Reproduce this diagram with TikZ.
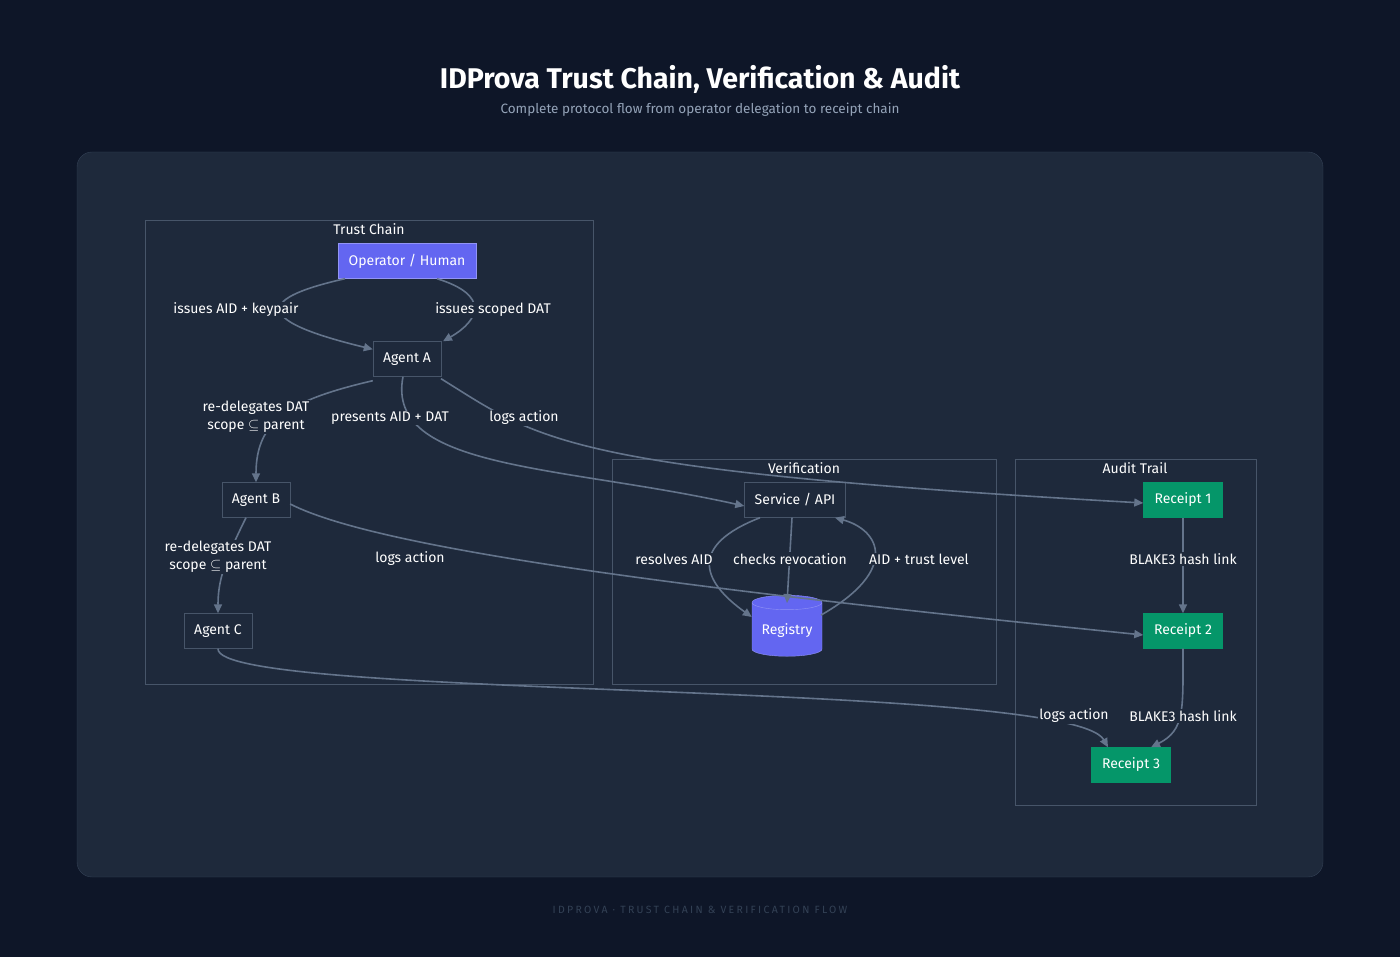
\documentclass[tikz,border=0pt]{standalone}
\usepackage{fontspec}
\setmainfont{Fira Sans}
\usetikzlibrary{shapes.geometric,arrows.meta}
\definecolor{bg}{HTML}{0E1628}
\definecolor{panel}{HTML}{1E293B}
\definecolor{bd}{HTML}{475569}
\definecolor{edge}{HTML}{64748B}
\definecolor{purp}{HTML}{6366F1}
\definecolor{grn}{HTML}{059669}
\definecolor{sub}{HTML}{94A3B8}
\definecolor{foot}{HTML}{334155}
\tikzset{
 box/.style={draw=bd,fill=panel,text=white,minimum height=35pt,inner xsep=8pt,font=\fontsize{14}{16}\selectfont},
 pbox/.style={box,fill=purp,draw=purp!70!white},
 gbox/.style={box,fill=grn,draw=grn},
 clus/.style={draw=bd,fill=panel},
 ctext/.style={text=white,font=\fontsize{14}{16}\selectfont},
 lab/.style={text=white,fill=panel,inner sep=1pt,align=center,font=\fontsize{14}{16}\selectfont},
 lab2/.style={lab,font=\fontsize{14}{18}\selectfont},
 e/.style={draw=edge,line width=1.6pt,-{Triangle[length=9pt,width=8pt]}},
}
\begin{document}
\begin{tikzpicture}[x=1pt,y=-1pt]
\fill[bg] (0,0) rectangle (1400,957);
\useasboundingbox (0,0) rectangle (1400,957);
\fill[panel,draw=foot,rounded corners=15pt] (77,152) rectangle (1323,877);
\node[text=white,font=\bfseries\fontsize{28.5}{32}\selectfont] (title) at (700,79) {IDProva Trust Chain, Verification \& Audit};
\node[text=sub,font=\fontsize{13.5}{15}\selectfont] (subt) at (700,110) {Complete protocol flow from operator delegation to receipt chain};
\node[text=foot,font=\addfontfeatures{LetterSpace=22}\fontsize{10.5}{12}\selectfont] (foot) at (700,910) {IDPROVA · TRUST CHAIN \& VERIFICATION FLOW};
% clusters
\draw[clus] (145,220) rectangle (593,684);
\draw[clus] (612,459) rectangle (996,684);
\draw[clus] (1015,459) rectangle (1256,805);
\node[ctext] (ct1) at (369,229) {Trust Chain};
\node[ctext] (ct2) at (804,468) {Verification};
\node[ctext] (ct3) at (1135,468) {Audit Trail};
% nodes
\node[pbox,minimum width=138pt] (op) at (407,261) {Operator / Human};
\node[box,minimum width=68pt] (a) at (407,359) {Agent A};
\node[box,minimum width=68pt] (b) at (256,500) {Agent B};
\node[box,minimum width=68pt] (c) at (218,631) {Agent C};
\node[box,minimum width=101pt] (s) at (795,500) {Service / API};
\node[cylinder,shape border rotate=90,aspect=0.25,draw=purp!70!white,fill=purp,text=white,minimum width=70pt,minimum height=61pt,font=\fontsize{14}{16}\selectfont] (reg) at (787,631) {Registry};
\node[gbox,minimum width=79pt] (r1) at (1183,500) {Receipt 1};
\node[gbox,minimum width=79pt] (r2) at (1183,631) {Receipt 2};
\node[gbox,minimum width=79pt] (r3) at (1131,765) {Receipt 3};
% edges
\draw[e] ([xshift=-62pt]op.south) .. controls (250,300) and (260,322) .. ([yshift=-8pt]a.north west);
\draw[e] ([xshift=30pt]op.south) .. controls (490,295) and (480,320) .. ([xshift=36pt]a.north);
\draw[e] ([yshift=-4pt]a.south west) .. controls (290,400) and (256,420) .. (b.north);
\draw[e] ([xshift=-4pt]a.south) .. controls (385,470) and (560,465) .. ([yshift=-6pt]s.west);
\draw[e] ([xshift=34pt,yshift=-2pt]a.south) .. controls (540,440) and (560,470) .. ([yshift=-3pt]r1.west);
\draw[e] ([xshift=-10pt]b.south) .. controls (225,560) and (218,580) .. (c.north);
\draw[e] ([yshift=-4pt]b.east) .. controls (380,550) and (700,590) .. ([yshift=-4pt]r2.west);
\draw[e] (c.south) .. controls (215,700) and (1070,680) .. ([xshift=-23pt]r3.north);
\draw[e] (r1) -- (r2);
\draw[e] (r2.south) .. controls (1183,710) and (1185,730) .. ([xshift=20pt]r3.north);
\draw[e] ([xshift=-35pt]s.south) .. controls (690,545) and (700,580) .. ([yshift=14pt]reg.west);
\draw[e] ([xshift=-3pt]s.south) -- ([yshift=-8pt]reg.north);
\draw[e] ([xshift=34pt,yshift=-20pt]reg.north) .. controls (900,570) and (880,530) .. ([xshift=40pt]s.south);
% labels
\node[lab] (l1) at (236,310) {issues AID + keypair};
\node[lab] (l2) at (493,310) {issues scoped DAT};
\node[lab2] (l3) at (256,417) {re-delegates DAT\\scope $\subseteq$ parent};
\node[lab] (l4) at (390,418) {presents AID + DAT};
\node[lab] (l5) at (524,418) {logs action};
\node[lab2] (l6) at (218,557) {re-delegates DAT\\scope $\subseteq$ parent};
\node[lab] (l7) at (410,559) {logs action};
\node[lab] (l8) at (674,559) {resolves AID};
\node[lab] (l9) at (790,559) {checks revocation};
\node[lab] (l10) at (919,559) {AID + trust level};
\node[lab] (l11) at (1183,559) {BLAKE3 hash link};
\node[lab] (l12) at (1074,716) {logs action};
\node[lab] (l13) at (1183,716) {BLAKE3 hash link};
\end{tikzpicture}
\end{document}
